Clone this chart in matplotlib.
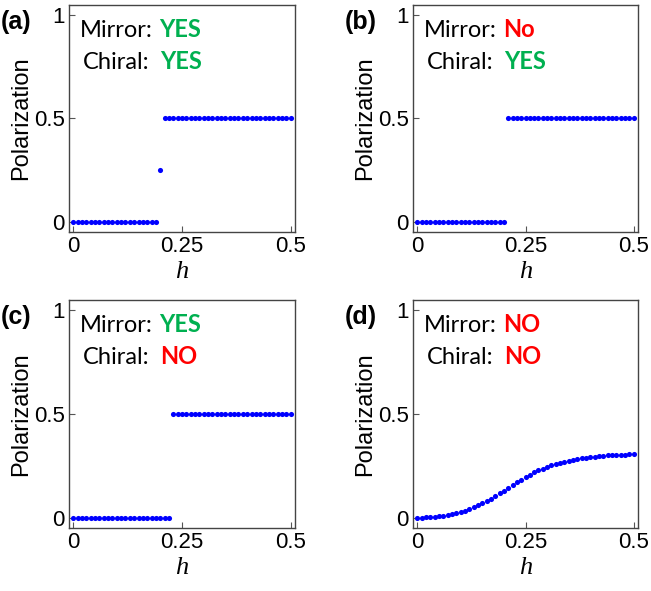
# Polarization vs h for four symmetry cases
import numpy as np
import matplotlib.pyplot as plt

h = np.round(np.arange(0, 0.501, 0.01), 2)

pol_a = [0.0] * 20 + [0.25] + [0.5] * 30
pol_b = [0.0] * 21 + [0.5] * 30
pol_c = [0.0] * 23 + [0.5] * 28
pol_d = [0.000, 0.000, 0.001, 0.002, 0.004, 0.006, 0.009, 0.013, 0.017, 0.022,
         0.028, 0.034, 0.042, 0.050, 0.059, 0.069, 0.080, 0.092, 0.104, 0.117,
         0.130, 0.143, 0.157, 0.170, 0.183, 0.195, 0.207, 0.218, 0.228, 0.237,
         0.245, 0.252, 0.259, 0.265, 0.270, 0.275, 0.279, 0.283, 0.286, 0.289,
         0.292, 0.294, 0.296, 0.298, 0.300, 0.301, 0.302, 0.303, 0.304, 0.305,
         0.305]

panel_labels = ['(a)', '(b)', '(c)', '(d)']
mirror = ['YES', 'No', 'YES', 'NO']
chiral = ['YES', 'YES', 'NO', 'NO']

GREEN = '#00B050'
RED = '#FF0000'

fig = plt.figure(figsize=(6.51, 5.91), dpi=100)
W, H = 651, 591
# axes boxes in pixels: left, top, right, bottom
boxes = [(69, 5, 295, 232), (413, 5, 638, 232),
         (69, 300, 295, 528), (413, 300, 638, 528)]
series = [pol_a, pol_b, pol_c, pol_d]

for i in range(4):
    l, t, r, b = boxes[i]
    ax = fig.add_axes([l / W, 1 - b / H, (r - l) / W, (b - t) / H])
    ax.plot(h, series[i], 'o', color='#0000FF', markersize=3.7, markeredgewidth=0)
    ax.set_xlim(-0.01, 0.51)
    ax.set_ylim(-0.05, 1.05)
    ax.set_xticks([0, 0.25, 0.5])
    ax.set_xticklabels(['0', '0.25', '0.5'])
    ax.set_yticks([0, 0.5, 1])
    ax.set_yticklabels(['0', '0.5', '1'])
    ax.tick_params(direction='in', length=4, width=0.8, color='#555555',
                   labelsize=16, pad=3)
    for lab in ax.get_xticklabels() + ax.get_yticklabels():
        lab.set_family('Liberation Sans')
    for s in ax.spines.values():
        s.set_color('#444444')
        s.set_linewidth(1.0)
    ax.set_ylabel('Polarization', fontsize=17, family='Liberation Sans', labelpad=1)
    ax.set_xlabel('h', fontsize=19, family='Liberation Serif', style='italic', labelpad=3)

    fig.text((l - 68) / W, 1 - (t + 24) / H, panel_labels[i], fontsize=18,
             fontweight='bold', family='Liberation Sans')

    c1 = GREEN if mirror[i] == 'YES' else RED
    c2 = GREEN if chiral[i] == 'YES' else RED
    t1 = ax.text(0.05, 0.86, 'Mirror:', transform=ax.transAxes, fontsize=17,
                 family='Lato', va='baseline')
    ax.annotate(mirror[i], xy=(1, 0), xycoords=t1, xytext=(4, 0),
                textcoords='offset points', fontsize=17, family='Lato',
                fontweight='bold', color=c1, va='bottom')
    t2 = ax.text(0.06, 0.72, 'Chiral:', transform=ax.transAxes, fontsize=17,
                 family='Lato', va='baseline')
    ax.annotate(chiral[i], xy=(1, 0), xycoords=t2, xytext=(8, 0),
                textcoords='offset points', fontsize=17, family='Lato',
                fontweight='bold', color=c2, va='bottom')

plt.savefig('out.png', dpi=100)
